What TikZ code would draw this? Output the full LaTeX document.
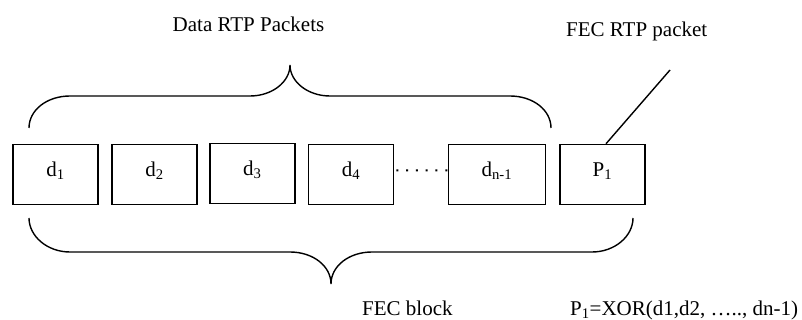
\documentclass[tikz,border=0pt]{standalone}
\usepackage{fontspec}
\setmainfont{Liberation Serif}
\begin{document}
\begin{tikzpicture}[x=1pt,y=-1pt,
  pkt/.style={draw,line width=1.5pt,minimum height=60pt,text height=10pt,text depth=6pt,inner sep=0pt,font=\fontsize{21}{25}\selectfont},
  lbl/.style={inner sep=0pt,font=\fontsize{21}{25}\selectfont},
  brc/.style={line width=1.4pt}]
\useasboundingbox (0,0) rectangle (802,320);
% packets
\node[pkt,minimum width=85pt] (d1) at (55.5,174.3) {d\textsubscript{1}};
\node[pkt,minimum width=85pt] (d2) at (154.5,174.3) {d\textsubscript{2}};
\node[pkt,minimum width=85pt] (d3) at (252.3,173.7) {d\textsubscript{3}};
\node[pkt,minimum width=85pt] (d4) at (351,174.3) {d\textsubscript{4}};
\node[pkt,minimum width=97pt] (dn) at (496.8,174.5) {d\textsubscript{n-1}};
\node[pkt,minimum width=85pt] (P1) at (602.5,174.5) {P\textsubscript{1}};
% dots between d4 and dn-1
\draw[line width=2pt,dash pattern=on 2pt off 7.8pt,line cap=butt] ([yshift=4pt,xshift=2pt]d4.east) -- ([yshift=4pt]dn.west);
% labels
\node[lbl,anchor=base] (top) at (248.5,31.5) {Data RTP Packets};
\node[lbl,anchor=base] (fec) at (636.7,37) {FEC RTP packet};
\node[lbl,anchor=base west] (blk) at (362,315) {FEC block};
\node[lbl,anchor=base west] (xor) at (570,315) {P\textsubscript{1}=XOR(d1,d2, ….., dn-1)};
% pointer line
\coordinate (fecend) at (670,70);
\draw[line width=1.4pt] ([xshift=3.5pt]P1.north) -- (fecend);
% top brace
\draw[brc] (29,128) .. controls (29,110) and (47,96) .. (70,96)
  -- (250,96) .. controls (272,96) and (290,82) .. (290,65)
  .. controls (290,82) and (308,96) .. (330,96)
  -- (510,96) .. controls (533,96) and (551,110) .. (551,128);
% bottom brace
\draw[brc] (29,218) .. controls (29,236) and (47,252) .. (70,252)
  -- (290,252) .. controls (313,252) and (331,266) .. (331,284)
  .. controls (331,266) and (349,252) .. (372,252)
  -- (592,252) .. controls (615,252) and (633,236) .. (633,218);
\end{tikzpicture}
\end{document}
